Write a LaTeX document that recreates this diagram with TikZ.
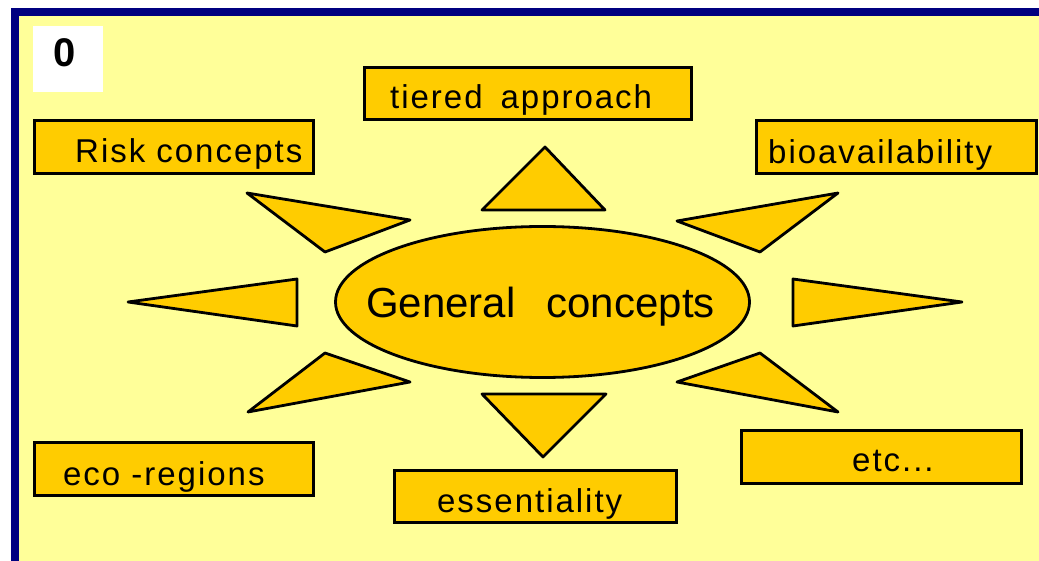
\documentclass[tikz,border=0pt]{standalone}
\usepackage{fontspec}
\setmainfont{Liberation Sans}
\newfontfamily\labelfont[LetterSpace=6]{Liberation Sans}
\usetikzlibrary{shapes.geometric}
\definecolor{paleyellow}{HTML}{FFFF99}
\definecolor{gold}{HTML}{FFCC00}
\definecolor{framenavy}{HTML}{000080}
\tikzset{
    box/.style={draw=black, line width=3bp, fill=gold, inner sep=0pt},
    ray/.style={draw=black, line width=2.8bp, fill=gold, line join=round},
    lbl/.style={anchor=base west, inner sep=0pt, font=\fontsize{33bp}{40bp}\labelfont},
}
\begin{document}
\begin{tikzpicture}[x=1bp, y=-1bp]
        \useasboundingbox (0,0) rectangle (1039,561);
        \fill[white] (0,0) rectangle (1039,561);
        \fill[framenavy] (11,8) rectangle (1039,561);
        \fill[paleyellow] (19,16) rectangle (1039,561);
        \node[fill=white, minimum width=70bp, minimum height=66bp, inner sep=0pt] (zerobox) at (68,59) {};
        \node[inner sep=0pt, font=\fontsize{40bp}{44bp}\selectfont\bfseries] (zero) at (65,53) {0};
        \node[box, minimum width=279bp, minimum height=53bp] (riskbox) at (174,147) {};
        \node[box, minimum width=327bp, minimum height=52bp] (tieredbox) at (528,93.5) {};
        \node[box, minimum width=280bp, minimum height=53bp] (biobox) at (896.5,147) {};
        \node[box, minimum width=279bp, minimum height=53bp] (ecobox) at (174,469) {};
        \node[box, minimum width=280bp, minimum height=53bp] (etcbox) at (881.5,457) {};
        \node[box, minimum width=282bp, minimum height=52bp] (essbox) at (535.5,496.5) {};
        \node[lbl] (risk) at (75,163) {Risk concepts};
        \node[lbl] (tiered) at (390,109) {tiered\hspace{18bp}approach};
        \node[lbl] (bio) at (768,164) {bioavailability};
        \node[lbl] (eco) at (63,485) {eco -regions};
        \node[lbl] (etc) at (852,471) {etc...};
        \node[lbl] (ess) at (437,512) {essentiality};
        \filldraw[ray] (247,193) -- (410,220) -- (325,252) -- cycle;
        \filldraw[ray] (297,279) -- (297,326) -- (128,302) -- cycle;
        \filldraw[ray] (325,353) -- (410,382) -- (248,412) -- cycle;
        \filldraw[ray] (482,210) -- (545,147) -- (605,210) -- cycle;
        \filldraw[ray] (677,221) -- (838,193) -- (760,252) -- cycle;
        \filldraw[ray] (793,279) -- (793,326) -- (962,302) -- cycle;
        \filldraw[ray] (677,382) -- (760,353) -- (838,412) -- cycle;
        \filldraw[ray] (482,394) -- (606,394) -- (543,457) -- cycle;
        \node[ellipse, draw=black, line width=2.8bp, fill=gold, minimum width=414bp, minimum height=151bp, inner sep=0pt] (general) at (542.5,302) {};
        \node[anchor=base west, inner sep=0pt, font=\fontsize{42bp}{48bp}\selectfont] (generaltext) at (366,318) {General\hspace{31bp}concepts};
    \end{tikzpicture}
\end{document}
